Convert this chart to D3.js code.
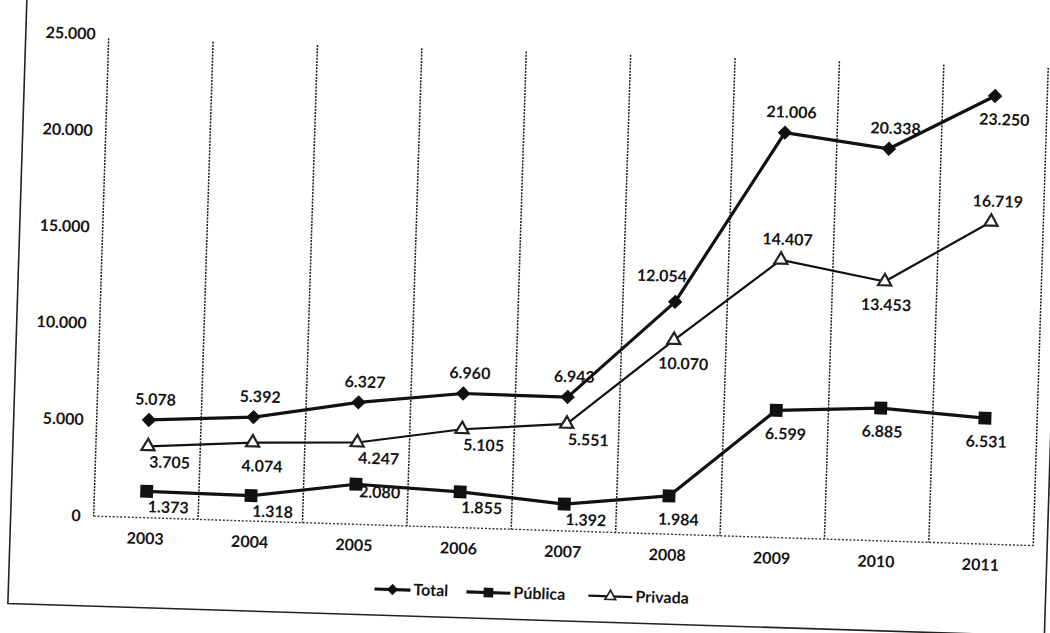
<!DOCTYPE html>
<html>
<head>
<meta charset="utf-8">
<script src="https://cdn.jsdelivr.net/npm/d3@7"></script>
<style>
  body { margin: 0; background: #fff; }
  svg { display: block; }
  text { font-family: Lato, "Open Sans", sans-serif; fill: #141414; }
</style>
</head>
<body>
<div class="chart"></div>
<script>
// data
let years = ["2003", "2004", "2005", "2006", "2007", "2008", "2009", "2010", "2011"];
let total = [5078, 5392, 6327, 6960, 6943, 12054, 21006, 20338, 23250];
let publica = [1373, 1318, 2080, 1855, 1392, 1984, 6599, 6885, 6531];
let privada = [3705, 4074, 4247, 5105, 5551, 10070, 14407, 13453, 16719];
let yTicks = [0, 5000, 10000, 15000, 20000, 25000];
let seriesNames = ["Total", "Pública", "Privada"];

// where each value label sits relative to its marker
let totalPos = ["t", "t", "t", "t", "t", "tl", "t", "t", "bs"];
let publicaPos = ["br", "br", "r", "br", "br", "bs", "bs", "b", "b"];
let privadaPos = ["br", "bs", "br", "br", "br", "bs", "t", "b", "t"];
let labelOffset = {
    t: [6, -21], tl: [-14, -26], b: [2, 23], bs: [10, 23], br: [22, 15], r: [24, 7]
};

let W = 1050, H = 633;
let plotL = 101, plotR = 1041, plotT = 49, plotB = 531;

let fmt = d3.formatLocale({decimal: ",", thousands: ".", grouping: [3], currency: ["", ""]}).format(",d");

let svg = d3.select(".chart").append("svg")
    .attr("width", W)
    .attr("height", H);

// the page was scanned a little crooked
let g = svg.append("g")
    .attr("transform", "rotate(1.8, 571, 290)");

let x = d3.scaleBand().domain(years).range([plotL, plotR]).padding(0);
let y = d3.scaleLinear().domain([0, 25000]).range([plotB, plotT]);

// outer frame
g.append("path")
    .attr("d", "M18,-40 L18,621 L1055,621 L1055,-40")
    .attr("fill", "none")
    .attr("stroke", "#222")
    .attr("stroke-width", 1.6);

// vertical dotted grid at the category edges
let edges = years.map(d => x(d)).concat([plotR]);
g.selectAll(".vgrid").data(edges).enter().append("line")
    .attr("class", "vgrid")
    .attr("x1", d => d).attr("x2", d => d)
    .attr("y1", plotT + 4).attr("y2", plotB)
    .attr("stroke", "#1a1a1a")
    .attr("stroke-width", 1.5)
    .attr("stroke-dasharray", "2,1.2");

g.append("line")
    .attr("x1", plotL).attr("x2", plotR)
    .attr("y1", plotB).attr("y2", plotB)
    .attr("stroke", "#333")
    .attr("stroke-width", 1.4)
    .attr("stroke-dasharray", "2,1.8");

// y axis
let yAxis = g.append("g")
    .attr("transform", "translate(" + plotL + ",0)")
    .call(d3.axisLeft(y).tickValues(yTicks).tickFormat(fmt).tickSize(0).tickPadding(13));
yAxis.select(".domain").remove();
yAxis.selectAll("text")
    .style("font-size", "16px")
    .style("font-weight", "bold")
    .style("font-family", "Lato, sans-serif")
    .attr("fill", "#141414");

// x axis
let xAxis = g.append("g")
    .attr("transform", "translate(0," + plotB + ")")
    .call(d3.axisBottom(x).tickSize(0).tickPadding(15));
xAxis.select(".domain").remove();
xAxis.selectAll("text")
    .style("font-size", "16px")
    .style("font-weight", "bold")
    .style("font-family", "Lato, sans-serif")
    .attr("fill", "#141414");

let cx = d => x(d) + x.bandwidth() / 2;

let series = [
    {name: seriesNames[0], values: total, pos: totalPos, shape: "diamond", width: 3.2},
    {name: seriesNames[1], values: publica, pos: publicaPos, shape: "square", width: 3.2},
    {name: seriesNames[2], values: privada, pos: privadaPos, shape: "triangle", width: 2.2}
];

function marker(sel, shape) {
    if (shape === "diamond") {
        sel.attr("d", d3.symbol(d3.symbolSquare, 85)())
            .attr("fill", "#111")
            .attr("stroke", "#111")
            .attr("stroke-width", 1);
    } else if (shape === "square") {
        sel.attr("d", d3.symbol(d3.symbolSquare, 165)())
            .attr("fill", "#111");
    } else {
        sel.attr("d", d3.symbol(d3.symbolTriangle, 75)())
            .attr("fill", "#fff")
            .attr("stroke", "#222")
            .attr("stroke-width", 2.2);
    }
}

let line = d3.line()
    .x((d, i) => cx(years[i]))
    .y(d => y(d));

series.forEach(function (s) {
    g.append("path")
        .datum(s.values)
        .attr("d", line)
        .attr("fill", "none")
        .attr("stroke", "#111")
        .attr("stroke-width", s.width)
        .attr("stroke-linejoin", "round");

    g.selectAll(".m-" + s.shape).data(s.values).enter().append("path")
        .attr("class", "m-" + s.shape)
        .attr("transform", function (d, i) {
            let r = s.shape === "diamond" ? " rotate(45)" : "";
            return "translate(" + cx(years[i]) + "," + y(d) + ")" + r;
        })
        .call(marker, s.shape);

    g.selectAll(".l-" + s.shape).data(s.values).enter().append("text")
        .attr("class", "l-" + s.shape)
        .attr("x", (d, i) => cx(years[i]) + labelOffset[s.pos[i]][0])
        .attr("y", (d, i) => y(d) + labelOffset[s.pos[i]][1] + 6)
        .attr("text-anchor", "middle")
        .style("font-size", "16px")
        .style("font-weight", "bold")
        .text(d => fmt(d));
});

// legend
let legend = g.append("g").attr("transform", "translate(384,595)");
let legX = [0, 92, 214];
series.forEach(function (s, i) {
    let item = legend.append("g").attr("transform", "translate(" + legX[i] + ",0)");
    let len = i === 0 ? 36 : 44;
    item.append("line")
        .attr("x1", 0).attr("x2", len)
        .attr("y1", 0).attr("y2", 0)
        .attr("stroke", "#111")
        .attr("stroke-width", s.width);
    let sc = s.shape === "square" ? 0.75 : 0.8;
    item.append("path")
        .call(marker, s.shape)
        .attr("transform", "translate(" + len / 2 + ",0) scale(" + sc + ")" + (s.shape === "diamond" ? " rotate(45)" : ""));
    item.append("text")
        .attr("x", len + 3)
        .attr("y", 5)
        .style("font-size", "16px")
        .style("font-weight", "bold")
        .text(s.name);
});
</script>
</body>
</html>
